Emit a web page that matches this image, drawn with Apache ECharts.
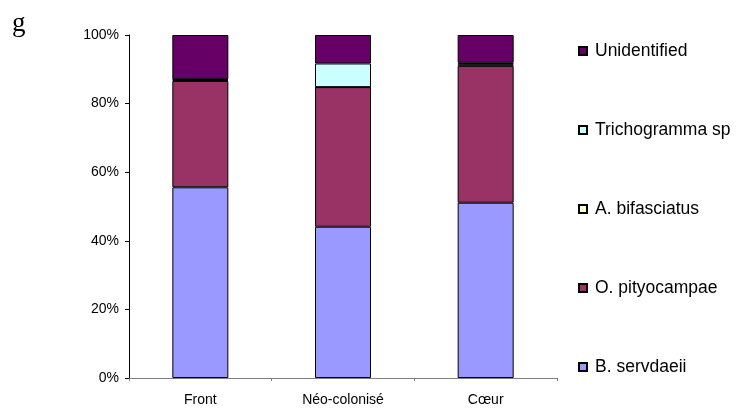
<!DOCTYPE html>
<html>
<head>
<meta charset="utf-8">
<script src="https://cdn.jsdelivr.net/npm/echarts@6/dist/echarts.min.js"></script>
<style>
html,body{margin:0;padding:0;background:#fff;}
#chart{width:739px;height:409px;}
</style>
</head>
<body>
<div id="chart"></div>
<script>
const categories = ['Front', 'Néo-colonisé', 'Cœur'];
const bServdaeii = [55.6, 44.1, 51.1];
const oPityocampae = [31.0, 40.7, 39.9];
const aBifasciatus = [0.3, 0, 0.5];
const trichogramma = [0.2, 6.9, 0.4];
const unidentified = [12.9, 8.3, 8.1];
const yTicks = [0, 20, 40, 60, 80, 100];
const seriesNames = ['B. servdaeii', 'O. pityocampae', 'A. bifasciatus', 'Trichogramma sp', 'Unidentified'];
const seriesColors = ['#9999FF', '#993366', '#FFFFCC', '#CCFFFF', '#660066'];
const seriesData = [bServdaeii, oPityocampae, aBifasciatus, trichogramma, unidentified];

const font = "'Liberation Sans', Arial, sans-serif";
const chart = echarts.init(document.getElementById('chart'));
chart.setOption({
  animation: false,
  title: {
    text: 'g', left: 7, top: 5, padding: 5,
    textStyle: { fontFamily: "'Liberation Serif', 'DejaVu Serif', serif", fontSize: 27, fontWeight: 'normal', color: '#000' }
  },
  grid: { left: 129, right: 182, top: 35, bottom: 31, containLabel: false },
  legend: {
    orient: 'vertical', left: 573, top: 36,
    itemWidth: 8, itemHeight: 8, itemGap: 59, icon: 'rect',
    data: seriesNames.slice().reverse(),
    textStyle: { fontFamily: font, fontSize: 17.5, color: '#000', lineHeight: 20, padding: [0, 0, 0, 3] }
  },
  xAxis: {
    type: 'category', data: categories,
    axisLine: { lineStyle: { color: '#808080', width: 1 } },
    axisTick: { show: true, length: 3, lineStyle: { color: '#808080' } },
    axisLabel: { fontFamily: font, fontSize: 14, color: '#000', margin: 15 },
    splitLine: { show: false }
  },
  yAxis: {
    type: 'value', min: 0, max: 100, interval: 20,
    axisLine: { show: true, lineStyle: { color: '#000', width: 1 } },
    axisTick: { show: true, length: 4, lineStyle: { color: '#000' } },
    axisLabel: { fontFamily: font, fontSize: 14, color: '#000', margin: 10, formatter: v => yTicks.includes(v) ? v + '%' : '' },
    splitLine: { show: false }
  },
  series: seriesNames.map((name, i) => ({
    name, type: 'bar', stack: 'total', barWidth: 56,
    data: seriesData[i],
    itemStyle: { color: seriesColors[i], borderColor: '#000', borderWidth: 1 },
    emphasis: { disabled: true }
  }))
});
</script>
</body>
</html>
